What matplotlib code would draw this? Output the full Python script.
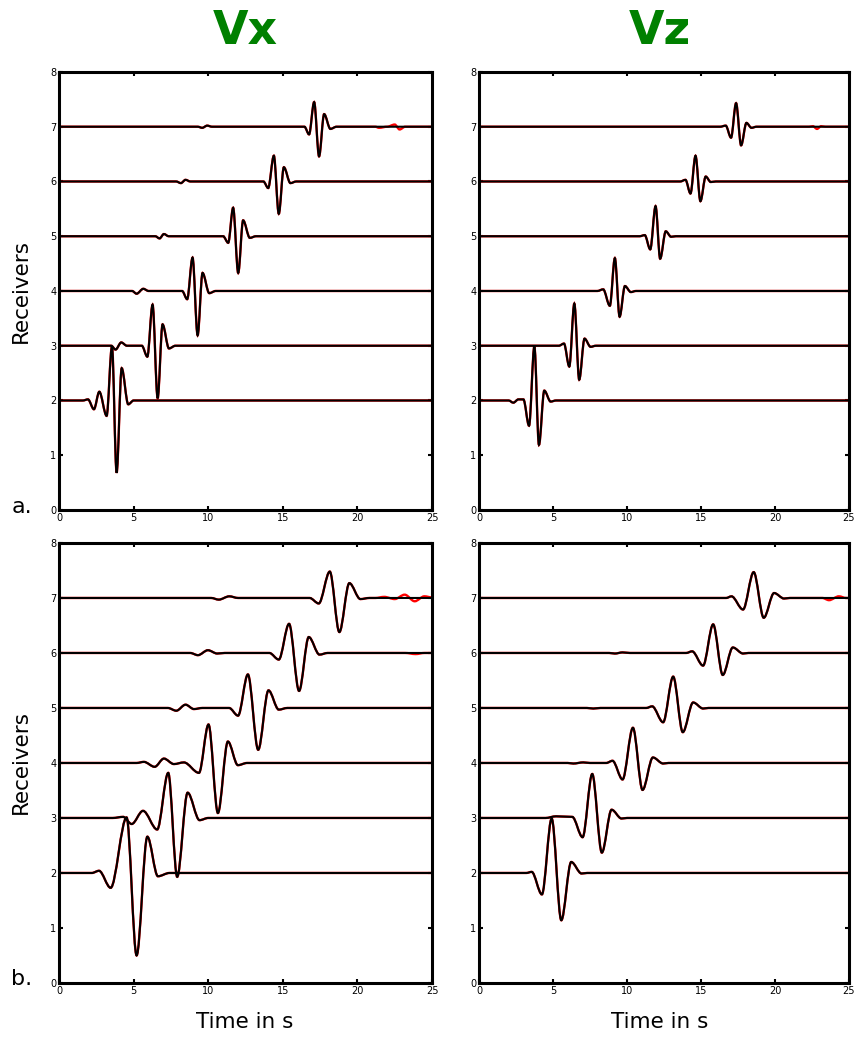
import matplotlib
matplotlib.use("Agg")
import matplotlib.pyplot as plt
from matplotlib.path import Path
from matplotlib.patches import PathPatch

# receivers (trace baselines) and time axis
receivers = [2, 3, 4, 5, 6, 7]
t_end = 25

# picked extrema of every trace: times (s) and amplitudes relative to the receiver line
# a. Vx
vx_a_times = [
    [1.6, 1.94, 2.34, 2.70, 3.19, 3.55, 3.86, 4.20, 4.64, 5.0],
    [3.5, 3.79, 4.17, 4.55, 5.55, 5.92, 6.27, 6.61, 6.94, 7.37, 7.8],
    [4.9, 5.20, 5.65, 6.0, 8.25, 8.59, 8.95, 9.29, 9.62, 10.07, 10.5],
    [6.45, 6.74, 7.03, 7.35, 11.0, 11.34, 11.67, 12.01, 12.34, 12.79, 13.2],
    [7.85, 8.17, 8.48, 8.8, 13.7, 14.02, 14.40, 14.73, 15.07, 15.51, 15.9],
    [9.3, 9.60, 9.93, 10.25, 16.45, 16.76, 17.10, 17.43, 17.77, 18.19, 18.6],
]
vx_a_amps = [
    [0, 0.02, -0.16, 0.16, -0.28, 0.99, -1.32, 0.59, -0.07, 0],
    [0, -0.07, 0.06, 0, 0, -0.20, 0.75, -0.96, 0.39, -0.05, 0],
    [0, -0.05, 0.04, 0, 0, -0.15, 0.61, -0.81, 0.33, -0.04, 0],
    [0, -0.04, 0.04, 0, 0, -0.12, 0.52, -0.67, 0.29, -0.03, 0],
    [0, -0.03, 0.03, 0, 0, -0.12, 0.47, -0.59, 0.26, -0.03, 0],
    [0, -0.02, 0.02, 0, 0, -0.14, 0.45, -0.54, 0.23, -0.04, 0],
]
# a. Vz
vz_a_times = [
    [2.0, 2.32, 2.66, 3.0, 3.38, 3.74, 4.05, 4.41, 4.84, 5.2],
    [5.4, 5.74, 6.10, 6.44, 6.77, 7.13, 7.54, 7.9],
    [8.0, 8.39, 8.84, 9.18, 9.50, 9.86, 10.26, 10.6],
    [10.85, 11.2, 11.57, 11.93, 12.24, 12.62, 12.98, 13.3],
    [13.6, 13.95, 14.29, 14.63, 14.96, 15.32, 15.66, 16.0],
    [16.3, 16.67, 17.03, 17.37, 17.71, 18.07, 18.41, 18.75],
]
vz_a_amps = [
    [0, -0.04, 0.02, 0.02, -0.46, 0.99, -0.81, 0.18, -0.02, 0],
    [0, 0.04, -0.38, 0.77, -0.62, 0.13, -0.02, 0],
    [0, 0.03, -0.27, 0.60, -0.47, 0.09, -0.02, 0],
    [0, 0.02, -0.24, 0.55, -0.41, 0.09, -0.01, 0],
    [0, 0.03, -0.22, 0.47, -0.36, 0.09, -0.01, 0],
    [0, 0.02, -0.20, 0.43, -0.34, 0.07, -0.02, 0],
]
# b. Vx
vx_b_times = [
    [2.2, 2.68, 3.46, 4.53, 5.20, 5.92, 6.63, 7.4],
    [3.6, 4.3, 4.87, 5.63, 6.58, 7.32, 7.92, 8.62, 9.42, 10.0],
    [5.2, 5.69, 6.41, 7.03, 7.70, 8.37, 9.38, 10.02, 10.65, 11.32, 11.99, 12.6],
    [7.3, 7.86, 8.48, 9.04, 9.6, 11.4, 12.0, 12.66, 13.35, 14.04, 14.73, 15.3],
    [8.8, 9.31, 9.98, 10.6, 11.1, 14.1, 14.73, 15.42, 16.09, 16.74, 17.46, 18.0],
    [10.2, 10.71, 11.41, 12.0, 16.8, 17.41, 18.15, 18.79, 19.46, 20.2, 20.8],
]
vx_b_amps = [
    [0, 0.04, -0.27, 1.01, -1.50, 0.66, -0.06, 0],
    [0, 0.02, -0.11, 0.13, -0.21, 0.82, -1.07, 0.46, -0.04, 0],
    [0, 0.02, -0.07, 0.08, -0.02, 0.01, -0.18, 0.70, -0.91, 0.39, -0.04, 0],
    [0, -0.05, 0.06, -0.02, 0, 0, -0.14, 0.61, -0.76, 0.32, -0.03, 0],
    [0, -0.04, 0.05, -0.01, 0, 0, -0.12, 0.53, -0.69, 0.29, -0.03, 0],
    [0, -0.03, 0.03, 0, 0, -0.10, 0.48, -0.62, 0.27, -0.02, 0],
]
# b. Vz
vz_b_times = [
    [3.2, 3.56, 4.25, 4.91, 5.56, 6.23, 6.93, 7.3],
    [4.5, 5.2, 6.3, 7.0, 7.65, 8.30, 8.96, 9.63, 10.0],
    [6.0, 6.37, 7.04, 7.5, 8.6, 9.02, 9.70, 10.40, 11.05, 11.75, 12.44, 12.8],
    [7.3, 7.72, 8.2, 11.3, 11.7, 12.44, 13.12, 13.77, 14.47, 15.14, 15.5],
    [8.8, 9.18, 9.7, 10.2, 14.0, 14.4, 15.14, 15.82, 16.47, 17.15, 17.84, 18.2],
    [16.7, 17.06, 17.84, 18.56, 19.24, 19.94, 20.61, 21.0],
]
vz_b_amps = [
    [0, 0.02, -0.39, 0.99, -0.86, 0.20, -0.01, 0],
    [0, 0.03, 0.02, -0.35, 0.80, -0.63, 0.15, -0.01, 0],
    [0, -0.01, 0.01, 0, 0, 0.04, -0.30, 0.64, -0.49, 0.10, -0.01, 0],
    [0, -0.01, 0, 0, 0.03, -0.26, 0.57, -0.44, 0.10, -0.01, 0],
    [0, -0.01, 0.01, 0, 0, 0.03, -0.23, 0.52, -0.40, 0.10, -0.01, 0],
    [0, 0.03, -0.21, 0.47, -0.36, 0.09, -0.01, 0],
]

# late ripples only seen in the red (reference) traces: receiver -> (times, amps)
vx_a_red = {7: ([21.2, 21.45, 22.0, 22.5, 22.83, 23.2], [0, -0.02, 0, 0.04, -0.05, 0])}
vz_a_red = {7: ([22.3, 22.56, 22.84, 23.12, 23.4], [0, 0.01, -0.04, 0.01, 0])}
vx_b_red = {6: ([23.2, 23.9, 24.5], [0, -0.02, 0]),
            7: ([21.2, 21.8, 22.5, 23.17, 23.84, 24.49, 25.0], [0, 0.02, -0.02, 0.06, -0.06, 0.03, 0.01])}
vz_b_red = {7: ([23.2, 23.65, 24.32, 24.8], [0, -0.04, 0.03, 0])}


def trace_path(base, times, amps):
    pts = [(0, 0)] + list(zip(times, amps))
    if pts[-1][0] < t_end:
        pts.append((t_end, 0))
    verts = [(pts[0][0], base + pts[0][1])]
    codes = [Path.MOVETO]
    for (t0, a0), (t1, a1) in zip(pts[:-1], pts[1:]):
        dt = t1 - t0
        verts += [(t0 + dt / 3, base + a0), (t1 - dt / 3, base + a1), (t1, base + a1)]
        codes += [Path.CURVE4] * 3
    return Path(verts, codes)


def draw_panel(ax, times, amps, red):
    for i, r in enumerate(receivers):
        rt, ra = list(times[i]), list(amps[i])
        if r in red:
            rt += red[r][0]
            ra += red[r][1]
        ax.add_patch(PathPatch(trace_path(r, rt, ra), fill=False, ec="red", lw=1.7, zorder=2))
        ax.add_patch(PathPatch(trace_path(r, times[i], amps[i]), fill=False, ec="black", lw=1.5, zorder=3))
    ax.set_xlim(0, 25)
    ax.set_ylim(0, 8)
    ax.set_xticks([0, 5, 10, 15, 20, 25])
    ax.set_yticks(range(9))
    ax.tick_params(direction="in", length=3, width=1.5, labelsize=7, top=True, right=True, pad=2)
    for s in ax.spines.values():
        s.set_linewidth(2.2)


fig = plt.figure(figsize=(8.58, 10.37), dpi=100)

ax1 = fig.add_axes([0.0688, 0.5082, 0.4347, 0.4224])
ax2 = fig.add_axes([0.5583, 0.5082, 0.4312, 0.4224])
ax3 = fig.add_axes([0.0688, 0.0521, 0.4347, 0.4243])
ax4 = fig.add_axes([0.5583, 0.0521, 0.4312, 0.4243])

draw_panel(ax1, vx_a_times, vx_a_amps, vx_a_red)
draw_panel(ax2, vz_a_times, vz_a_amps, vz_a_red)
draw_panel(ax3, vx_b_times, vx_b_amps, vx_b_red)
draw_panel(ax4, vz_b_times, vz_b_amps, vz_b_red)

fig.text(0.2855, 0.970, "Vx", color="#008000", fontsize=33, fontweight="heavy", ha="center", va="center")
fig.text(0.769, 0.970, "Vz", color="#008000", fontsize=33, fontweight="heavy", ha="center", va="center")

fig.text(0.0245, 0.719, "Receivers", rotation=90, fontsize=15.5, ha="center", va="center")
fig.text(0.0245, 0.265, "Receivers", rotation=90, fontsize=15.5, ha="center", va="center")
fig.text(0.2855, 0.0145, "Time in s", fontsize=15.5, ha="center", va="center")
fig.text(0.769, 0.0145, "Time in s", fontsize=15.5, ha="center", va="center")

fig.text(0.013, 0.505, "a.", fontsize=16, ha="left", va="baseline")
fig.text(0.013, 0.050, "b.", fontsize=16, ha="left", va="baseline")

fig.savefig("out.png", dpi=100)
